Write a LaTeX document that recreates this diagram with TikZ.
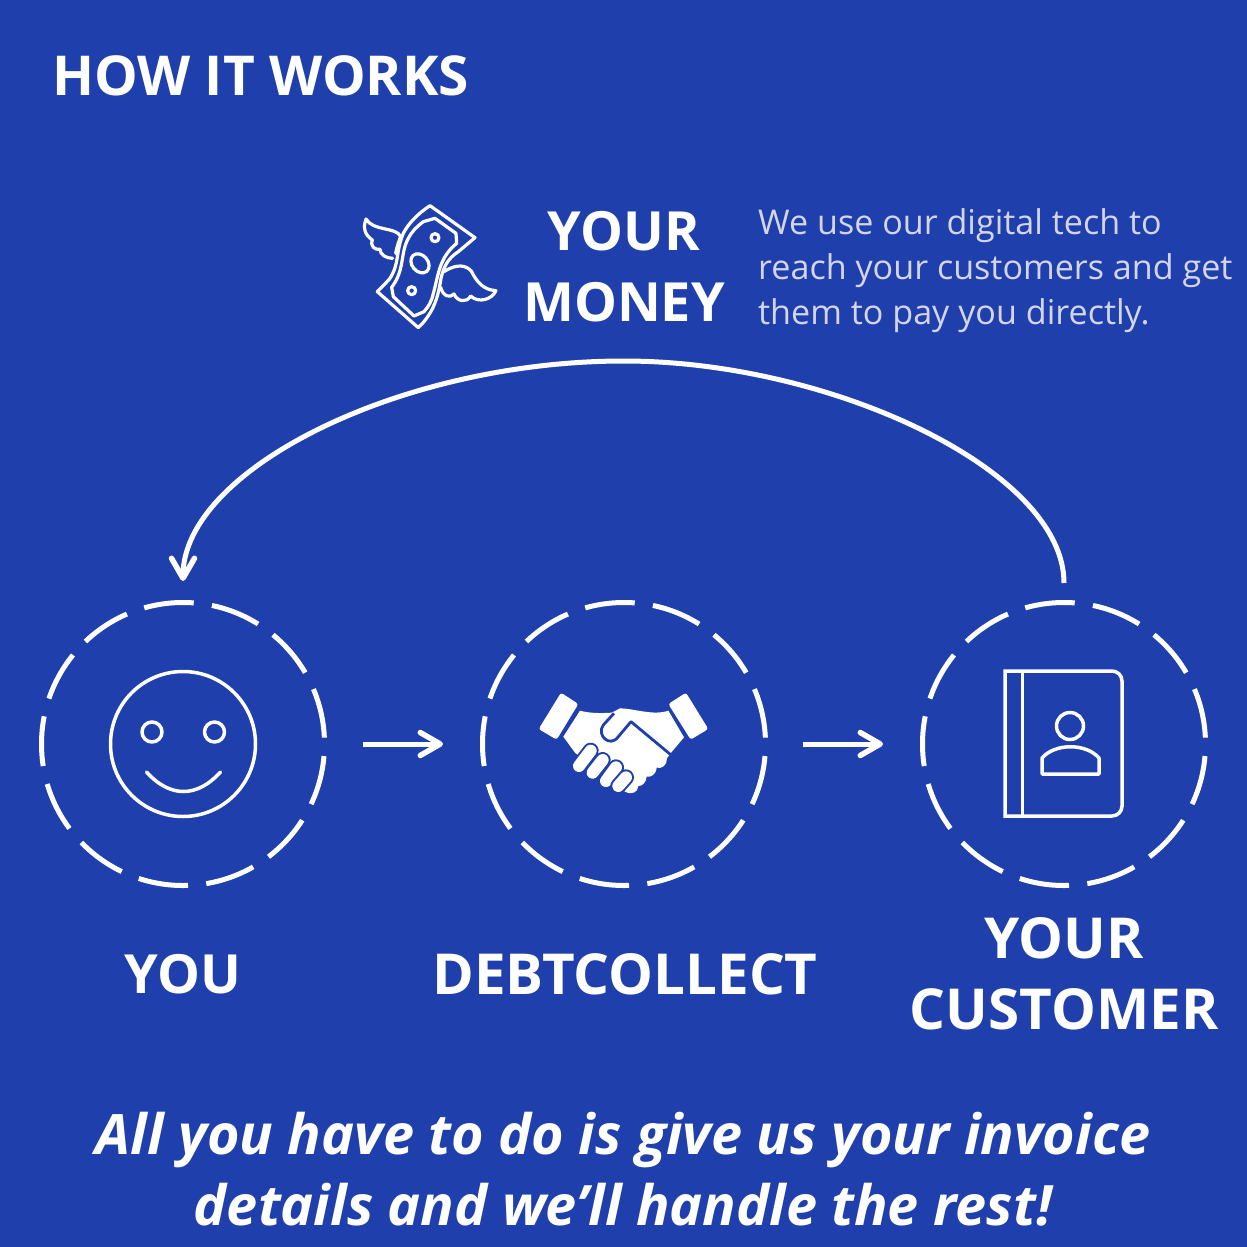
\documentclass[tikz,border=0pt]{standalone}
\usepackage{fontspec}
\setmainfont{Open Sans}
\usetikzlibrary{arrows.meta}
\definecolor{bgblue}{HTML}{1F3FAD}
\definecolor{softtext}{HTML}{D3D6EA}
\tikzset{
  ring/.style={circle,draw=white,line width=5pt,outer sep=0pt,minimum size=283pt,inner sep=0pt,dash pattern=on 50pt off 18.39pt,dash phase=62pt},
  flowarrow/.style={white,line width=5pt,-{Straight Barb[length=20pt,width=23pt,line width=5.5pt,round]}},
  heading/.style={white,font=\fontsize{56.5}{71}\selectfont\bfseries,align=center,inner sep=0pt},
  smallheading/.style={heading,font=\fontsize{54}{71}\selectfont\bfseries},
  icon/.style={white,line width=3.5pt,line join=round,line cap=round},
}
\begin{document}
\begin{tikzpicture}[x=1pt,y=-1pt]
\fill[bgblue] (0,0) rectangle (1247,1247);
\useasboundingbox (0,0) rectangle (1247,1247);

\node[smallheading,font=\fontsize{55}{71}\selectfont\bfseries,anchor=west] (title) at (52,76) {HOW IT WORKS};
\node[smallheading] (money) at (624,267) {YOUR\\MONEY};
\node[softtext,anchor=north west,inner sep=0pt,align=left,font=\fontsize{34.1}{45}\selectfont] (note) at (758,208)
  {We use our digital tech to\\reach your customers and get\\them to pay you directly.};

\node[ring] (you) at (183,744) {};
\node[ring] (debt) at (624,744) {};
\node[ring] (customer) at (1064,744) {};

\node[smallheading] (youlabel) at (183,974) {YOU};
\node[heading] (debtlabel) at (625,974) {DEBTCOLLECT};
\node[heading] (customerlabel) at (1064,974) {YOUR\\CUSTOMER};

\node[white,align=center,inner sep=0pt,font=\fontsize{55.7}{71}\selectfont\bfseries\itshape] (closing) at (623,1169)
  {All you have to do is give us your invoice\\details and we’ll handle the rest!};

\draw[flowarrow,shorten <=38.5pt,shorten >=39.5pt] (you) -- (debt);
\draw[flowarrow,shorten <=37.5pt,shorten >=39.5pt] (debt) -- (customer);
\coordinate (top) at (624,361);
\draw[flowarrow,shorten <=19.5pt,shorten >=21.5pt]
  (customer.north) .. controls (1064,470) and (830,361) .. (top)
  .. controls (400,361) and (183,470) .. (you.north);

% smiley
\draw[icon] (183,744) circle(72.5pt);
\draw[icon] (152,732) circle(10pt);
\draw[icon] (214.5,732) circle(10pt);
\draw[icon] (146.5,772) .. controls (170,798) and (197,798) .. (220.5,772);

% handshake
\begin{scope}[shift={(520,680)},x=0.3333pt,y=-0.3333pt]
\fill[white,rounded corners=2.5pt] (123,38) -- (175,72) -- (110,179) -- (56,147) -- cycle;
\fill[white,rounded corners=2.5pt] (445,72) -- (498,38) -- (565,147) -- (512,179) -- cycle;
\fill[white] (180,92) .. controls (210,100) and (240,100) .. (275,98) -- (300,85)
  .. controls (340,85) and (400,108) .. (445,92) -- (492,172) -- (450,222) -- (441,235)
  .. controls (442,255) and (425,268) .. (410,263) .. controls (408,285) and (392,292) .. (380,290)
  .. controls (378,308) and (368,318) .. (355,318) .. controls (354,338) and (335,345) .. (315,335)
  -- (165,218) -- (130,170) -- cycle;
\draw[bgblue,line width=2.8pt,line join=round] (282,100) -- (250,135)
  .. controls (228,165) and (270,205) .. (295,170) -- (333,125) -- (452,224);
\foreach \xa/\ya/\xb/\yb in {177/258/212/212,218/278/248/240,258/303/288/262,295/318/318/292}{
  \draw[bgblue,line width=16pt,line cap=round] (\xa,\ya) -- (\xb,\yb);
  \draw[white,line width=12pt,line cap=round] (\xa,\ya) -- (\xb,\yb);
}
\end{scope}

% address book
\draw[icon,line cap=butt,line join=miter] (1005,671) -- (1112,671) arc[start angle=90,end angle=0,radius=10pt] -- (1122,806)
  arc[start angle=0,end angle=-90,radius=10pt] -- (1005,816) -- cycle;
\draw[icon,line cap=butt] (1022.5,671) -- (1022.5,816);
\draw[icon] (1070,726) circle(13.5pt);
\draw[icon] (1042,774) -- (1042,758) .. controls (1055,743) and (1086,743) .. (1099,758) -- (1099,774) -- cycle;

% flying money
\begin{scope}[shift={(350,190)},x=0.3333pt,y=-0.3333pt]
\draw[icon,line width=3.2pt] (240,47) -- (375,143) -- (325,185) .. controls (295,205) and (285,225) .. (277,250)
  .. controls (268,270) and (272,350) .. (205,413) -- (82,305) -- (118,268)
  .. controls (150,220) and (135,190) .. (160,130) .. controls (175,100) and (205,70) .. (240,47) -- cycle;
\draw[icon,line width=3.2pt] (220,95) -- (255,85) -- (318,130) -- (320,160) .. controls (265,205) and (265,260) .. (250,310)
  .. controls (245,335) and (235,350) .. (222,365) -- (192,378) -- (130,320) -- (125,292)
  .. controls (165,240) and (150,190) .. (175,145) .. controls (185,125) and (200,110) .. (220,95);
\draw[icon,line width=3.2pt] (255,143) circle(4pt);
\draw[icon,line width=3.2pt,rotate around={-50:(210,220)}] (210,220) ellipse(10.5pt and 8pt);
\draw[icon,line width=3.2pt] (185,302) circle(4pt);
\draw[icon,line width=3.2pt] (137,190) .. controls (142,165) and (148,150) .. (152,140) .. controls (140,110) and (70,125) .. (48,87)
  .. controls (38,115) and (45,135) .. (67,150) .. controls (60,170) and (75,180) .. (90,178)
  .. controls (90,195) and (110,205) .. (128,205);
\draw[icon,line width=3.2pt] (282,245) .. controls (320,220) and (350,225) .. (365,245) .. controls (380,275) and (400,300) .. (438,302)
  .. controls (425,330) and (385,340) .. (362,318) .. controls (350,340) and (322,335) .. (312,312)
  .. controls (300,325) and (280,320) .. (272,292);
\end{scope}
\end{tikzpicture}
\end{document}
